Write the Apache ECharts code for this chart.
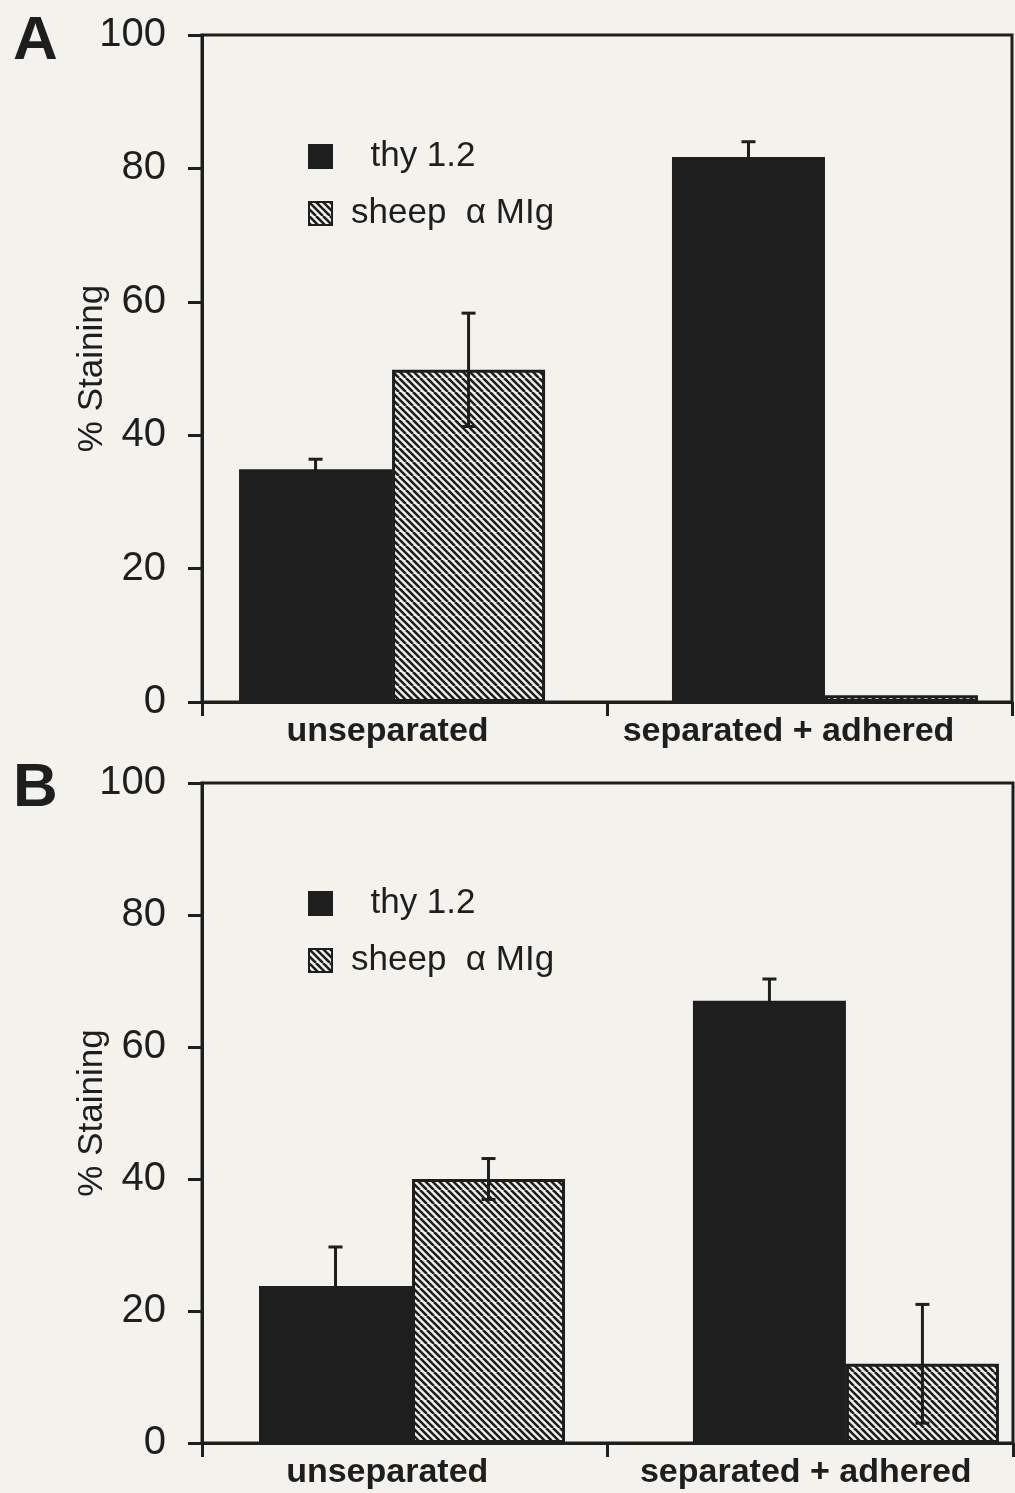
<!DOCTYPE html>
<html>
<head>
<meta charset="utf-8">
<script src="https://cdn.jsdelivr.net/npm/echarts@6/dist/echarts.min.js"></script>
<style>
  html, body { margin: 0; padding: 0; background: #f3f2ec; }
  #chart { width: 1015px; height: 1493px; }
</style>
</head>
<body>
<div id="chart"></div>
<script>
// data (% staining, mean and error)
const categories = ['unseparated', 'separated + adhered'];
const seriesNames = ['thy 1.2', 'sheep  α MIg'];

const thyA = [34.9, 81.7];
const thyErrA = [1.5, 2.3];
const sheepA = [49.8, 1.0];
const sheepErrA = [8.5, 0];

const thyB = [23.8, 67.0];
const thyErrB = [5.9, 3.3];
const sheepB = [40.0, 12.0];
const sheepErrB = [3.1, 9.0];

const yMin = 0, yMax = 100, yStep = 20;

const BG = '#f3f2ec';
const INK = '#1e1e1e';
const BAR_W = 153;
const FONT = 'Liberation Sans, Helvetica, Arial, sans-serif';

function hatchCanvas() {
    const c = document.createElement('canvas');
    c.width = 14; c.height = 14;
    const g = c.getContext('2d');
    g.fillStyle = BG;
    g.fillRect(0, 0, 14, 14);
    g.strokeStyle = INK;
    g.lineWidth = 2.6;
    for (let k = -14; k <= 14; k += 7) {
        g.beginPath();
        g.moveTo(k, 0);
        g.lineTo(k + 14, 14);
        g.stroke();
    }
    return c;
}
const hatch = { image: hatchCanvas(), repeat: 'repeat' };

const chart = echarts.init(document.getElementById('chart'));

// one grid per panel: visible category axis for the frame, hidden value x axis
// (bar positions in the scan sit a bit off the category centres)
function panel(p) {
    const gi = p.idx;
    const xi = p.idx * 2;
    const grid = { left: 202, right: p.frameRight, top: p.top, height: p.height, show: true,
        borderColor: INK, borderWidth: 3, backgroundColor: 'transparent' };
    const xAxes = [
        { type: 'category', gridIndex: gi, data: categories,
          axisLine: { onZero: false, lineStyle: { color: INK, width: 3 } },
          axisTick: { show: true, length: 14, lineStyle: { color: INK, width: 3 } },
          axisLabel: {
              margin: 13,
              formatter: (v, i) => '{c' + i + '|' + v + '}',
              rich: {
                  c0: { fontSize: 34, fontWeight: 'bold', fontFamily: FONT, color: INK, padding: [0, p.shift[0], 0, 0] },
                  c1: { fontSize: 34, fontWeight: 'bold', fontFamily: FONT, color: INK, padding: [0, p.shift[1], 0, 0] }
              }
          } },
        { type: 'value', gridIndex: gi, min: p.xMin, max: p.xMax, show: false,
          axisLine: { onZero: false }, splitLine: { show: false } }
    ];
    const yAxis = { type: 'value', gridIndex: gi, min: yMin, max: yMax, interval: yStep,
        name: '% Staining', nameLocation: 'middle', nameGap: 92, nameRotate: 90,
        nameMoveOverlap: false,
        nameTextStyle: { fontSize: 35, color: INK, fontFamily: FONT },
        axisLine: { show: true, onZero: false, lineStyle: { color: INK, width: 3 } },
        axisTick: { show: true, length: 14, lineStyle: { color: INK, width: 3 } },
        axisLabel: { fontSize: 40, color: INK, fontFamily: FONT, margin: 36 },
        splitLine: { show: false } };
    const bx = xi + 1;
    const series = [
        { name: seriesNames[0], type: 'bar', xAxisIndex: bx, yAxisIndex: gi,
          data: p.thy.map((v, i) => [i, v]),
          barWidth: BAR_W, barGap: '0%',
          itemStyle: { color: INK, borderColor: INK, borderWidth: 2 } },
        { name: seriesNames[1], type: 'bar', xAxisIndex: bx, yAxisIndex: gi,
          data: p.sheep.map((v, i) => [i, v]),
          barWidth: BAR_W, barGap: '0%',
          itemStyle: { color: hatch, borderColor: INK, borderWidth: 3 } },
        errorBars(p.thy, p.thyErr, -1, bx, gi),
        errorBars(p.sheep, p.sheepErr, 1, bx, gi)
    ];
    const legend = {
        data: seriesNames, orient: 'vertical', left: 303, top: p.legendTop,
        icon: 'rect', itemWidth: 23, itemHeight: 23, itemGap: 22, selectedMode: false,
        formatter: name => name === seriesNames[0] ? '  ' + name : name,
        textStyle: { fontSize: 35, color: INK, fontFamily: FONT, padding: [0, 0, 0, 14] }
    };
    const title = { text: p.label, left: 8, top: p.labelTop,
        textStyle: { fontSize: 62, fontWeight: 'bold', color: INK, fontFamily: FONT } };
    return { grid, xAxes, yAxis, series, legend, title };
}

function errorBars(vals, errs, side, xIdx, yIdx) {
    return {
        type: 'custom', xAxisIndex: xIdx, yAxisIndex: yIdx, z: 5,
        data: vals.map((v, i) => [i, v, errs[i]]),
        renderItem: function (params, api) {
            const i = api.value(0), v = api.value(1), e = api.value(2);
            if (!e) return;
            const x = api.coord([i, v])[0] + side * BAR_W / 2;
            const top = api.coord([i, v + e])[1];
            const bot = api.coord([i, v - e])[1];
            const st = { stroke: INK, lineWidth: 3 };
            return { type: 'group', children: [
                { type: 'line', shape: { x1: x, y1: top, x2: x, y2: bot }, style: st },
                { type: 'line', shape: { x1: x - 7, y1: top, x2: x + 7, y2: top }, style: st },
                { type: 'line', shape: { x1: x - 7, y1: bot, x2: x + 7, y2: bot }, style: st }
            ] };
        }
    };
}

const pA = panel({ idx: 0, label: 'A', labelTop: 6, top: 35, height: 667, frameRight: 3,
    xMin: -0.439, xMax: 1.432, legendTop: 134, shift: [34, 42],
    thy: thyA, thyErr: thyErrA, sheep: sheepA, sheepErr: sheepErrA });
const pB = panel({ idx: 1, label: 'B', labelTop: 753, top: 783, height: 660, frameRight: 2,
    xMin: -0.484, xMax: 1.385, legendTop: 881, shift: [35, 9],
    thy: thyB, thyErr: thyErrB, sheep: sheepB, sheepErr: sheepErrB });

const option = {
    backgroundColor: BG,
    animation: false,
    textStyle: { fontFamily: FONT },
    title: [pA.title, pB.title],
    legend: [pA.legend, pB.legend],
    grid: [pA.grid, pB.grid],
    xAxis: pA.xAxes.concat(pB.xAxes),
    yAxis: [pA.yAxis, pB.yAxis],
    series: pA.series.concat(pB.series)
};
chart.setOption(option);
</script>
</body>
</html>
